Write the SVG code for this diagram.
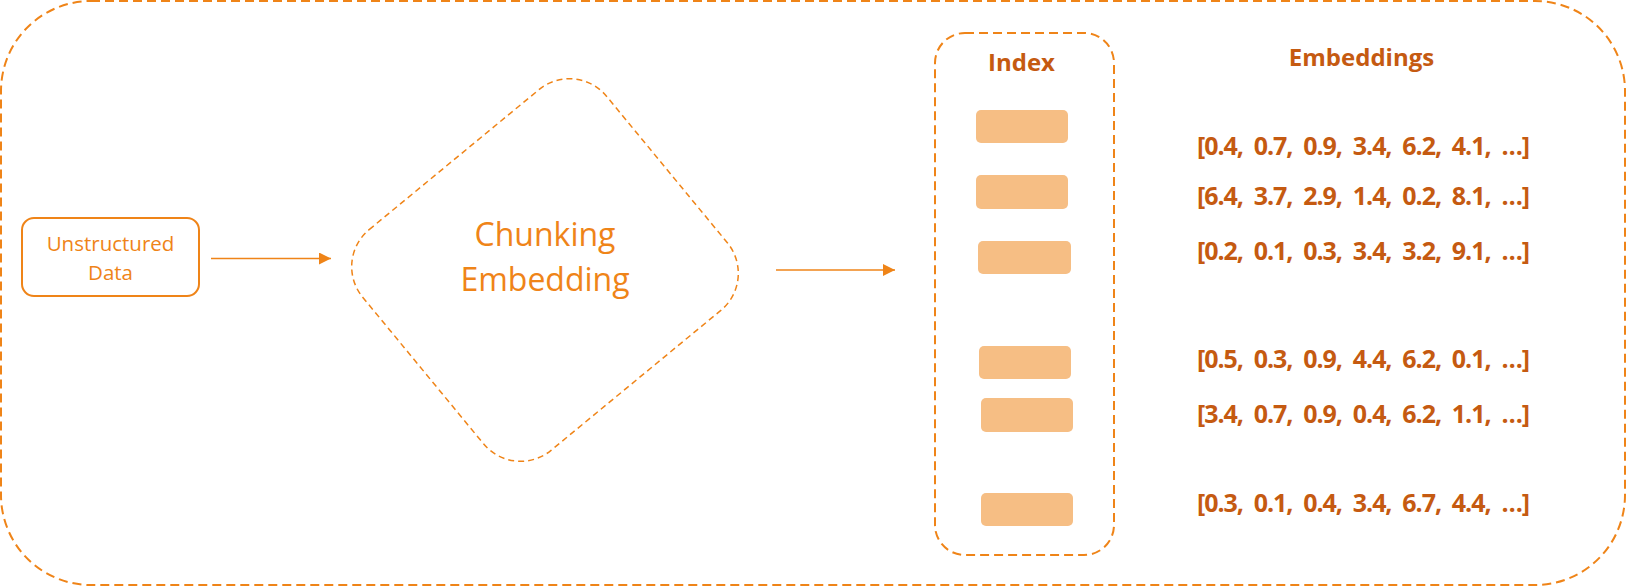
<svg xmlns="http://www.w3.org/2000/svg" width="1626" height="586" viewBox="0 0 1626 586">
  <style>
    .dash { fill: none; stroke: #EF8418; stroke-width: 2; stroke-dasharray: 9 5; }
    .thin { fill: none; stroke: #EF8418; stroke-width: 1.5; stroke-dasharray: 6 4; }
    .lbl { font-family: "Open Sans", "Noto Sans", sans-serif; fill: #EF8418; text-anchor: middle; }
    .hdr { font-family: "Open Sans", "Noto Sans", sans-serif; font-weight: bold; fill: #C55A11; }
    .vec { font-family: "Open Sans", "Noto Sans", sans-serif; font-weight: bold; fill: #C55A11; font-size: 25px; white-space: pre; }
    .chunk { fill: #F6BE84; }
    .conn { stroke: #EF8418; stroke-width: 1.3; fill: none; }
  </style>
  <defs>
    <marker id="arrow" viewBox="0 0 12 12" refX="12" refY="6" markerWidth="12" markerHeight="12" markerUnits="userSpaceOnUse" orient="auto">
      <path d="M0,0 L12,6 L0,12 Z" fill="#EF8418"/>
    </marker>
  </defs>
  <rect width="1626" height="586" fill="#FFFFFF"/>

  <g id="outer-frame">
    <rect class="dash" x="1" y="1" width="1624" height="584" rx="90" ry="90"/>
  </g>

  <g id="unstructured-data">
    <rect x="22" y="218" width="177" height="78" rx="12" ry="12" fill="#FFFFFF" stroke="#EF8418" stroke-width="2"/>
    <text class="lbl" x="110.5" y="251" font-size="20.5">Unstructured</text>
    <text class="lbl" x="110.5" y="280" font-size="20.5">Data</text>
  </g>

  <g id="chunking-embedding">
    <rect class="thin" x="-158" y="-143" width="316" height="286" rx="48" ry="48" transform="translate(545,270) rotate(-39.5)"/>
    <text class="lbl" x="545" y="246" font-size="32">Chunking</text>
    <text class="lbl" x="545" y="291" font-size="32">Embedding</text>
  </g>

  <g id="index">
    <rect class="dash" x="935" y="33" width="179" height="522" rx="30" ry="30"/>
    <text class="hdr" x="1021.5" y="71" font-size="24" text-anchor="middle">Index</text>
    <rect class="chunk" x="976" y="110" width="92" height="33" rx="5"/>
    <rect class="chunk" x="976" y="175" width="92" height="34" rx="5"/>
    <rect class="chunk" x="978" y="241" width="93" height="33" rx="5"/>
    <rect class="chunk" x="979" y="346" width="92" height="33" rx="5"/>
    <rect class="chunk" x="981" y="398" width="92" height="34" rx="5"/>
    <rect class="chunk" x="981" y="493" width="92" height="33" rx="5"/>
  </g>

  <g id="embeddings">
    <text class="hdr" x="1361.5" y="66" font-size="24" text-anchor="middle">Embeddings</text>
    <text class="vec" x="1197" y="155" textLength="333" lengthAdjust="spacing">[0.4,  0.7,  0.9,  3.4,  6.2,  4.1,  …]</text>
    <text class="vec" x="1197" y="205" textLength="333" lengthAdjust="spacing">[6.4,  3.7,  2.9,  1.4,  0.2,  8.1,  …]</text>
    <text class="vec" x="1197" y="260" textLength="333" lengthAdjust="spacing">[0.2,  0.1,  0.3,  3.4,  3.2,  9.1,  …]</text>
    <text class="vec" x="1197" y="368" textLength="333" lengthAdjust="spacing">[0.5,  0.3,  0.9,  4.4,  6.2,  0.1,  …]</text>
    <text class="vec" x="1197" y="423" textLength="333" lengthAdjust="spacing">[3.4,  0.7,  0.9,  0.4,  6.2,  1.1,  …]</text>
    <text class="vec" x="1197" y="512" textLength="333" lengthAdjust="spacing">[0.3,  0.1,  0.4,  3.4,  6.7,  4.4,  …]</text>
  </g>

  <g id="connectors">
    <line class="conn" x1="211" y1="258.5" x2="331" y2="258.5" marker-end="url(#arrow)"/>
    <line class="conn" x1="776" y1="270" x2="895" y2="270" marker-end="url(#arrow)"/>
  </g>
</svg>
